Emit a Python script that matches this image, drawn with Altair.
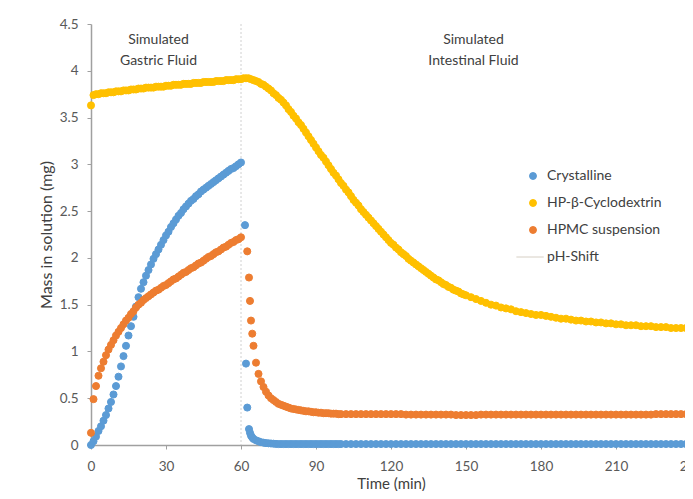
import altair as alt
import pandas as pd

# ---------------- data ----------------
series_names = ["Crystalline", "HP-β-Cyclodextrin", "HPMC suspension", "pH-Shift"]
fill_colors = ["#5B9BD5", "#FFC000", "#ED7D31", "transparent"]
stroke_colors = ["#5B9BD5", "#FFC000", "#ED7D31", "#d6cfc4"]
legend_shapes = ["circle", "circle", "circle", "M-4.8,0L3.1,0"]

x_ticks = [0, 30, 60, 90, 120, 150, 180, 210, 240]
y_ticks = [0, 0.5, 1, 1.5, 2, 2.5, 3, 3.5, 4, 4.5]
ph_shift_time = [60]

gastric_time = list(range(0, 61))

crystalline_gastric = [
    0.00, 0.04, 0.09, 0.15, 0.20, 0.26, 0.32, 0.39, 0.46, 0.54,
    0.63, 0.73, 0.84, 0.95, 1.06, 1.17, 1.27, 1.37, 1.48, 1.58,
    1.67, 1.74, 1.81, 1.87, 1.93, 1.99, 2.04, 2.09, 2.14, 2.19,
    2.24, 2.28, 2.33, 2.37, 2.41, 2.45, 2.48, 2.52, 2.55, 2.58,
    2.61, 2.63, 2.66, 2.68, 2.71, 2.73, 2.75, 2.77, 2.79, 2.81,
    2.83, 2.85, 2.87, 2.89, 2.91, 2.93, 2.95, 2.96, 2.98, 3.00,
    3.02,
]
hpbcd_gastric = [
    3.63, 3.74, 3.75, 3.75, 3.76, 3.76, 3.76, 3.77, 3.77, 3.77,
    3.78, 3.78, 3.78, 3.79, 3.79, 3.79, 3.80, 3.80, 3.80, 3.81,
    3.81, 3.81, 3.82, 3.82, 3.82, 3.82, 3.83, 3.83, 3.83, 3.83,
    3.84, 3.84, 3.84, 3.85, 3.85, 3.85, 3.85, 3.86, 3.86, 3.86,
    3.86, 3.87, 3.87, 3.87, 3.87, 3.88, 3.88, 3.88, 3.88, 3.88,
    3.89, 3.89, 3.89, 3.89, 3.90, 3.90, 3.90, 3.90, 3.91, 3.91,
    3.91,
]
hpmc_gastric = [
    0.13, 0.49, 0.63, 0.74, 0.82, 0.89, 0.96, 1.02, 1.07, 1.12,
    1.17, 1.21, 1.25, 1.29, 1.33, 1.36, 1.40, 1.43, 1.47, 1.50,
    1.52, 1.55, 1.57, 1.59, 1.61, 1.63, 1.65, 1.66, 1.68, 1.70,
    1.71, 1.73, 1.75, 1.77, 1.78, 1.80, 1.82, 1.84, 1.85, 1.87,
    1.89, 1.90, 1.92, 1.94, 1.95, 1.97, 1.99, 2.01, 2.02, 2.04,
    2.06, 2.07, 2.09, 2.11, 2.12, 2.14, 2.16, 2.17, 2.19, 2.20,
    2.22,
]

crystalline_int_time = [61.6, 62, 62.5, 63.2, 63.6, 64, 64.5, 65] + list(range(66, 101)) + list(range(102, 241, 2))
crystalline_int = [
    2.35, 0.87, 0.40, 0.17, 0.13, 0.10, 0.08, 0.065,
    0.05, 0.04, 0.03, 0.025, 0.02, 0.018, 0.016, 0.014, 0.012, 0.01,
    0.01, 0.01, 0.01, 0.01, 0.01, 0.01, 0.01, 0.01, 0.01, 0.01,
    0.01, 0.01, 0.01, 0.01, 0.01, 0.01, 0.01, 0.01, 0.01, 0.01,
    0.01, 0.01, 0.01, 0.01, 0.01,
    0.01, 0.01, 0.01, 0.01, 0.01, 0.01, 0.01, 0.01, 0.01, 0.01,
    0.01, 0.01, 0.01, 0.01, 0.01, 0.01, 0.01, 0.01, 0.01, 0.01,
    0.01, 0.01, 0.01, 0.01, 0.01, 0.01, 0.01, 0.01, 0.01, 0.01,
    0.01, 0.01, 0.01, 0.01, 0.01, 0.01, 0.01, 0.01, 0.01, 0.01,
    0.01, 0.01, 0.01, 0.01, 0.01, 0.01, 0.01, 0.01, 0.01, 0.01,
    0.01, 0.01, 0.01, 0.01, 0.01, 0.01, 0.01, 0.01, 0.01, 0.01,
    0.01, 0.01, 0.01, 0.01, 0.01, 0.01, 0.01, 0.01, 0.01, 0.01,
]

hpbcd_int_time = list(range(61, 151)) + list(range(152, 241, 2))
hpbcd_int = [
    3.92, 3.92, 3.92, 3.91, 3.90, 3.89, 3.88, 3.86, 3.85, 3.83,
    3.81, 3.79, 3.76, 3.74, 3.71, 3.69, 3.66, 3.63, 3.59, 3.56,
    3.52, 3.49, 3.45, 3.42, 3.38, 3.34, 3.30, 3.26, 3.22, 3.18,
    3.14, 3.10, 3.07, 3.03, 2.99, 2.95, 2.91, 2.88, 2.84, 2.80,
    2.77, 2.73, 2.70, 2.66, 2.62, 2.59, 2.56, 2.52, 2.49, 2.46,
    2.43, 2.40, 2.37, 2.34, 2.31, 2.28, 2.25, 2.22, 2.19, 2.16,
    2.14, 2.11, 2.09, 2.06, 2.04, 2.02, 1.99, 1.97, 1.95, 1.93,
    1.91, 1.89, 1.87, 1.85, 1.83, 1.81, 1.79, 1.77, 1.76, 1.74,
    1.72, 1.71, 1.69, 1.68, 1.66, 1.65, 1.64, 1.62, 1.61, 1.60,
    1.58, 1.56, 1.54, 1.52, 1.50, 1.49, 1.47, 1.46, 1.45, 1.43,
    1.42, 1.41, 1.40, 1.39, 1.39, 1.38, 1.37, 1.36, 1.35, 1.35,
    1.34, 1.33, 1.33, 1.32, 1.32, 1.31, 1.31, 1.30, 1.30, 1.29,
    1.29, 1.28, 1.28, 1.28, 1.27, 1.27, 1.27, 1.26, 1.26, 1.26,
    1.25, 1.25, 1.25, 1.25, 1.24,
]

hpmc_int_time = [62.5, 63.2, 63.6, 64, 64.5, 65] + list(range(66, 101)) + list(range(102, 241, 2))
hpmc_int = [
    2.07, 1.79, 1.54, 1.33, 1.19, 1.06,
    0.88, 0.76, 0.68, 0.62, 0.57, 0.53, 0.50, 0.48, 0.46, 0.44,
    0.43, 0.42, 0.41, 0.40, 0.39, 0.385, 0.38, 0.375, 0.37, 0.365,
    0.36, 0.36, 0.355, 0.35, 0.35, 0.345, 0.345, 0.34, 0.34, 0.34,
    0.335, 0.335, 0.335, 0.33, 0.33,
    0.33, 0.33, 0.33, 0.33, 0.33, 0.33, 0.33, 0.33, 0.33, 0.33,
    0.33, 0.33, 0.325, 0.325, 0.325, 0.325, 0.325, 0.325, 0.325, 0.325,
    0.325, 0.325, 0.32, 0.32, 0.32, 0.32, 0.32, 0.325, 0.325, 0.325,
    0.325, 0.325, 0.325, 0.325, 0.325, 0.325, 0.325, 0.325, 0.325, 0.325,
    0.325, 0.325, 0.325, 0.325, 0.325, 0.325, 0.325, 0.325, 0.325, 0.325,
    0.325, 0.325, 0.325, 0.325, 0.325, 0.325, 0.325, 0.325, 0.325, 0.325,
    0.325, 0.325, 0.33, 0.33, 0.33, 0.33, 0.33, 0.33, 0.33, 0.33,
]

annotation_labels = ["Simulated\nGastric Fluid", "Simulated\nIntestinal Fluid"]
annotation_x = [27, 153]
annotation_y = [4.33, 4.33]

# ---------------- build table ----------------
rows = []
for name, times, vals in [
    ("Crystalline", gastric_time + crystalline_int_time, crystalline_gastric + crystalline_int),
    ("HP-β-Cyclodextrin", gastric_time + hpbcd_int_time, hpbcd_gastric + hpbcd_int),
    ("HPMC suspension", gastric_time + hpmc_int_time, hpmc_gastric + hpmc_int),
]:
    assert len(times) == len(vals), (name, len(times), len(vals))
    for t, v in zip(times, vals):
        rows.append({"series": name, "time": t, "mass": v})
df = pd.DataFrame(rows)

ann_df = pd.DataFrame({"label": annotation_labels, "x": annotation_x, "y": annotation_y})
shift_df = pd.DataFrame({"t": ph_shift_time})

FONT = "Lato"
# 2.5 px per minute; the right end of the axis runs just past the window edge
x_scale = alt.Scale(domain=[0, 240], nice=False, range=[0, 600])
y_scale = alt.Scale(domain=[0, 4.5], nice=False)


def make_legend():
    return alt.Legend(
        title=None,
        orient="none",
        legendX=435,
        legendY=145,
        labelFont=FONT,
        labelFontSize=14,
        labelColor="#404040",
        labelOffset=7,
        symbolSize=48,
        rowPadding=13,
        padding=0,
        symbolStrokeWidth=1,
    )


rule = alt.Chart(shift_df).mark_rule(color="#d0d0d0", strokeDash=[2, 2], strokeWidth=1).encode(
    x=alt.X("t:Q", scale=x_scale)
)

points = alt.Chart(df).mark_point(filled=True, size=50, strokeWidth=1, opacity=1).encode(
    x=alt.X("time:Q", scale=x_scale,
            axis=alt.Axis(values=x_ticks, title="Time (min)", grid=False, labelFlush=False)),
    y=alt.Y("mass:Q", scale=y_scale,
            axis=alt.Axis(values=y_ticks, format="~g", title="Mass in solution (mg)", grid=False)),
    fill=alt.Fill("series:N", scale=alt.Scale(domain=series_names, range=fill_colors),
                  sort=series_names, legend=make_legend()),
    stroke=alt.Stroke("series:N", scale=alt.Scale(domain=series_names, range=stroke_colors),
                      sort=series_names, legend=make_legend()),
    shape=alt.Shape("series:N", scale=alt.Scale(domain=series_names, range=legend_shapes),
                    sort=series_names, legend=make_legend()),
)

texts = alt.Chart(ann_df).mark_text(
    font=FONT, fontSize=14, color="#404040", lineBreak="\n", lineHeight=21,
    align="center", baseline="middle"
).encode(
    x=alt.X("x:Q", scale=x_scale),
    y=alt.Y("y:Q", scale=y_scale),
    text="label:N",
)

chart = alt.layer(rule, points, texts).properties(
    width=594,
    height=421,
    autosize=alt.AutoSizeParams(type="none"),
    padding={"left": 83, "top": 16, "right": 0, "bottom": 46},
).configure_view(stroke=None).configure_axis(
    labelFont=FONT,
    titleFont=FONT,
    labelFontSize=13.5,
    titleFontSize=15,
    labelColor="#595959",
    titleColor="#404040",
    titleFontWeight="normal",
    domainColor="#a0a0a0",
    domainWidth=1.5,
    tickColor="#a0a0a0",
    tickSize=4,
).configure_axisX(
    labelPadding=10,
    titlePadding=4,
).configure_axisY(
    labelPadding=9,
    titlePadding=5,
    titleFontSize=16,
)

chart.save("out.html", embed_options={"renderer": "svg", "actions": False})
